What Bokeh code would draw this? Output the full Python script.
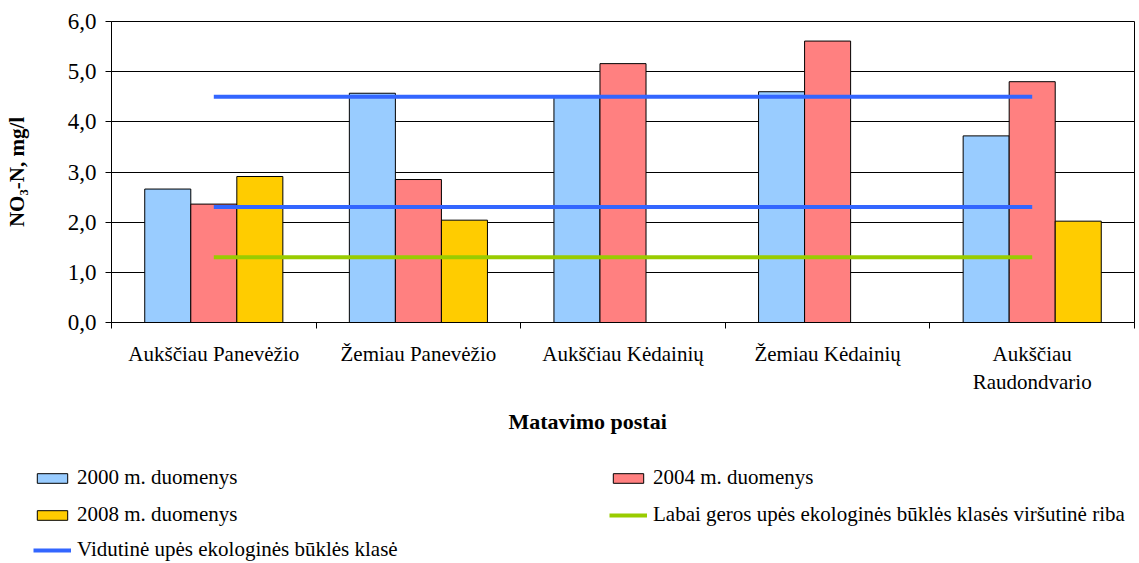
from bokeh.plotting import figure
from bokeh.models import FixedTicker, LinearAxis, Legend, LegendItem, Title
from bokeh.embed import file_html
from bokeh.resources import INLINE

# ---- data ----
categories = ["Aukščiau Panevėžio", "Žemiau Panevėžio", "Aukščiau Kėdainių",
              "Žemiau Kėdainių", "Aukščiau\nRaudondvario"]
v2000 = [2.66, 4.57, 4.49, 4.60, 3.72]
v2004 = [2.36, 2.85, 5.16, 5.61, 4.80]
v2008 = [2.91, 2.04, None, None, 2.02]
vidutine_levels = [4.5, 2.3]
labai_geros_level = 1.3
y_tick_values = [0, 1, 2, 3, 4, 5, 6]
y_tick_labels = ["0,0", "1,0", "2,0", "3,0", "4,0", "5,0", "6,0"]

FONT = "Liberation Serif"
C2000, C2004, C2008 = "#99CCFF", "#FF8080", "#FFCC00"
C_VID, C_GOOD = "#3366FF", "#99CC00"
L2000, L2004, L2008 = "2000 m. duomenys", "2004 m. duomenys", "2008 m. duomenys"
L_VID = "Vidutinė upės ekologinės būklės klasė"
L_GOOD = "Labai geros upės ekologinės būklės klasės viršutinė riba"

TOP_H = 445
p = figure(width=1139, height=TOP_H, x_range=(0, len(categories)), y_range=(0, 6),
           x_axis_type=None, output_backend="svg", toolbar_location=None,
           min_border_left=111, min_border_top=21, min_border_right=5,
           min_border_bottom=TOP_H - 322)
p.background_fill_color = "white"
p.border_fill_color = "white"
p.outline_line_color = "black"
p.outline_line_width = 1

# y axis
ya = p.yaxis[0]
ya.ticker = FixedTicker(ticks=y_tick_values)
ya.major_label_overrides = {v: l for v, l in zip(y_tick_values, y_tick_labels)}
ya.major_label_text_font = FONT
ya.major_label_text_font_size = "23px"
ya.major_label_text_color = "black"
ya.major_tick_out = 6
ya.major_tick_in = 0
ya.minor_tick_line_color = None
ya.axis_line_color = "black"
ya.major_tick_line_color = "black"
ya.major_label_standoff = 9
ya.axis_label = "NO₃-N, mg/l"
ya.axis_label_text_font = FONT
ya.axis_label_text_font_style = "bold"
ya.axis_label_text_font_size = "21px"
ya.axis_label_text_color = "black"
ya.axis_label_standoff = 36

p.ygrid.grid_line_color = "black"
p.ygrid.grid_line_width = 1
p.ygrid.ticker = FixedTicker(ticks=y_tick_values)

# x axis: tick marks at category boundaries
xa_ticks = LinearAxis(ticker=FixedTicker(ticks=list(range(len(categories) + 1))))
xa_ticks.major_label_overrides = {i: "" for i in range(len(categories) + 1)}
xa_ticks.major_label_text_font_size = "1px"
xa_ticks.major_label_standoff = 0
xa_ticks.major_tick_out = 6
xa_ticks.major_tick_in = 0
xa_ticks.minor_tick_line_color = None
xa_ticks.axis_line_color = "black"
xa_ticks.major_tick_line_color = "black"
p.add_layout(xa_ticks, "below")

# x axis: category labels at centers
centers = [i + 0.5 for i in range(len(categories))]
xa_labels = LinearAxis(ticker=FixedTicker(ticks=centers))
xa_labels.major_label_overrides = {c: n for c, n in zip(centers, categories)}
xa_labels.major_label_text_font = FONT
xa_labels.major_label_text_font_size = "21px"
xa_labels.major_label_text_color = "black"
xa_labels.major_label_standoff = 7
xa_labels.major_tick_line_color = None
xa_labels.minor_tick_line_color = None
xa_labels.axis_line_color = None
p.add_layout(xa_labels, "below")

p.add_layout(Title(text="Matavimo postai", align="left", offset=397,
                   text_font=FONT, text_font_size="22px", text_font_style="bold",
                   text_color="black", standoff=18), "below")

# bars
bar_w = 0.225
series = [(L2000, v2000, C2000, -1), (L2004, v2004, C2004, 0), (L2008, v2008, C2008, 1)]
for label, vals, color, k in series:
    xs = [centers[i] + k * bar_w for i, v in enumerate(vals) if v is not None]
    tops = [v for v in vals if v is not None]
    p.vbar(x=xs, top=tops, bottom=0, width=bar_w, fill_color=color,
           line_color="black", line_width=1)

# threshold lines
line_x = [centers[0], centers[-1]]
for lvl in vidutine_levels:
    p.line(x=line_x, y=[lvl, lvl], line_color=C_VID, line_width=4)
p.line(x=line_x, y=[labai_geros_level, labai_geros_level],
       line_color=C_GOOD, line_width=4)

# ---- legend strip below the chart (its own figure, renderers hidden) ----
LEG_H = 563 - TOP_H
pl = figure(width=1139, height=LEG_H, x_range=(0, len(categories)), y_range=(0, 6),
            x_axis_type=None, y_axis_type=None, output_backend="svg",
            toolbar_location=None, min_border=0, min_border_left=0,
            min_border_right=0, min_border_top=0, min_border_bottom=0)
pl.outline_line_color = None
pl.background_fill_color = "white"
pl.border_fill_color = "white"

leg_r = {}
for label, vals, color, k in series:
    xs = [centers[i] + k * bar_w for i, v in enumerate(vals) if v is not None]
    tops = [v for v in vals if v is not None]
    leg_r[label] = pl.vbar(x=xs, top=tops, bottom=0, width=bar_w, fill_color=color,
                           line_color="black", line_width=1, visible=False)
leg_r[L_VID] = pl.line(x=line_x, y=[vidutine_levels[0]] * 2, line_color=C_VID,
                       line_width=4, visible=False)
leg_r[L_GOOD] = pl.line(x=line_x, y=[labai_geros_level] * 2, line_color=C_GOOD,
                        line_width=4, visible=False)


def add_legend(label, x_left, y_center):
    vy = LEG_H - ((y_center - TOP_H) + 12)
    lg = Legend(items=[LegendItem(label=label, renderers=[leg_r[label]])],
                location=(x_left, vy), padding=0, margin=0, spacing=0,
                border_line_color=None, background_fill_alpha=0,
                inactive_fill_alpha=0,
                glyph_width=38, glyph_height=12, label_standoff=6,
                label_text_font=FONT, label_text_font_size="21px",
                label_text_color="black", label_height=12)
    pl.add_layout(lg)


add_legend(L2000, 33, 478)
add_legend(L2008, 33, 515)
add_legend(L_VID, 33, 550)
add_legend(L2004, 609, 478)
add_legend(L_GOOD, 609, 515)

open("out.html", "w").write(file_html([p, pl], INLINE))
